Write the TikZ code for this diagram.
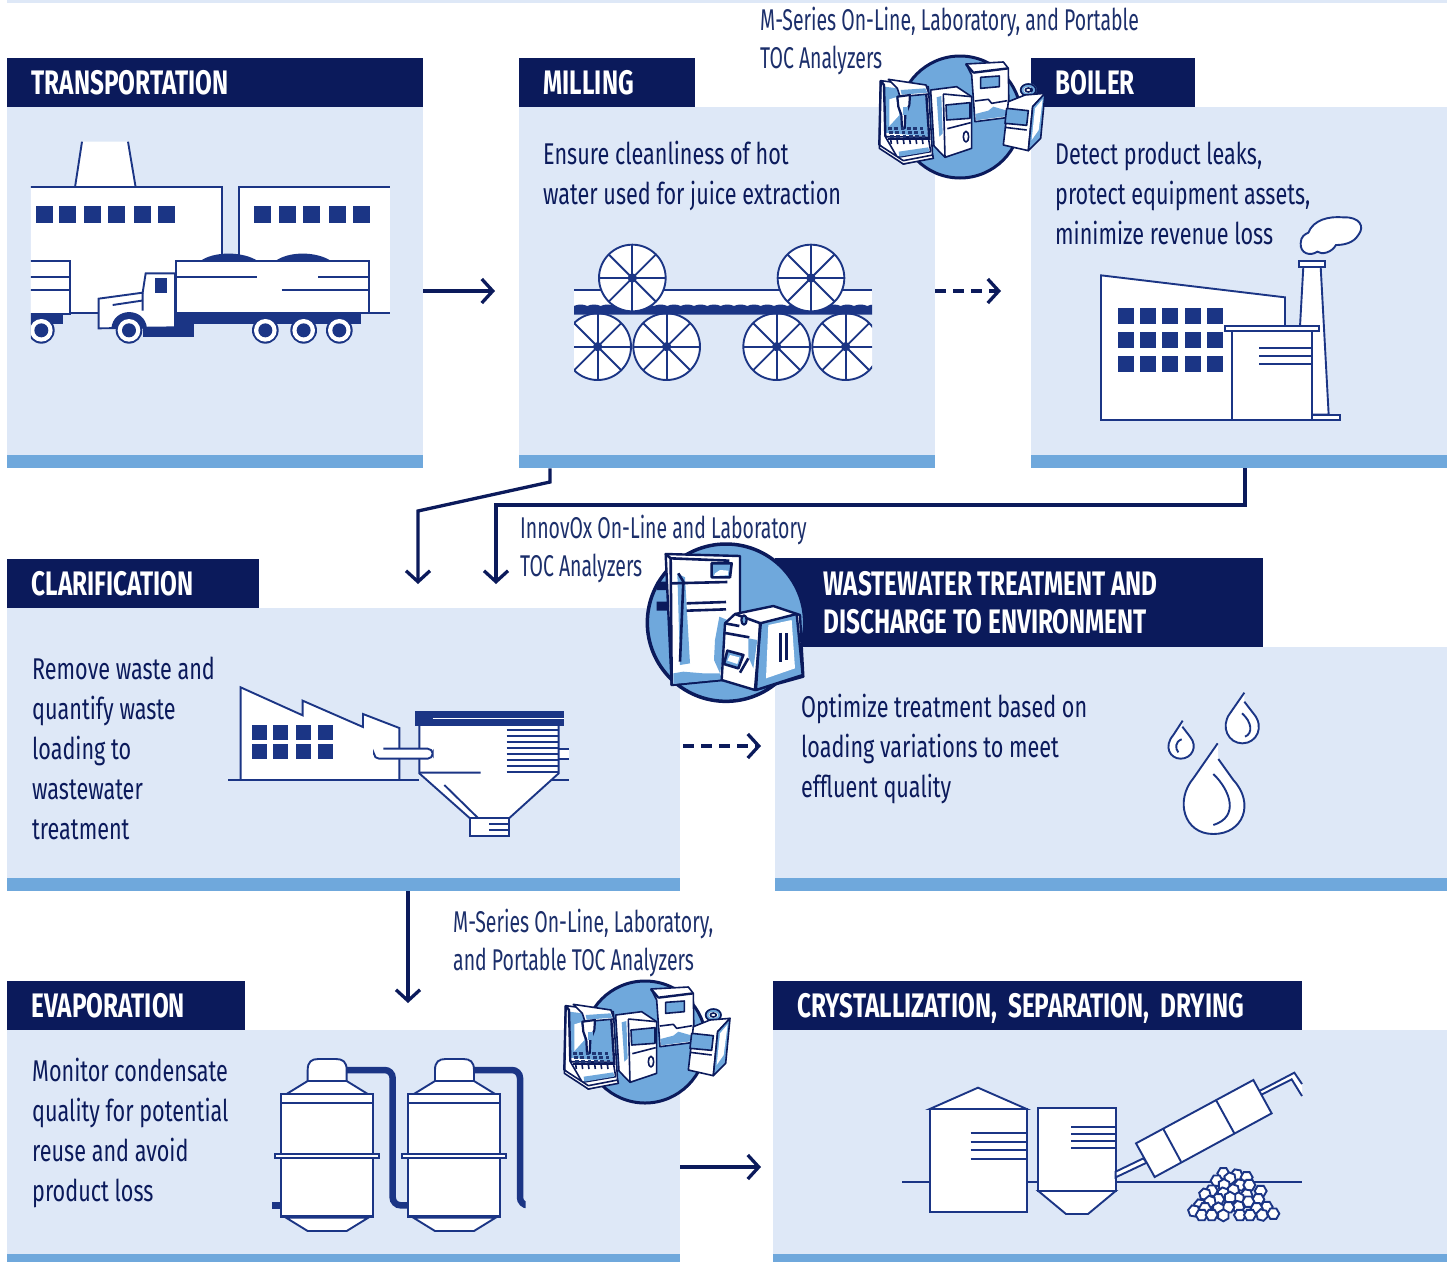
\documentclass[tikz,border=0pt]{standalone}
\usepackage{fontspec}
\setmainfont{Fira Sans}
\newfontfamily\bodyf[FakeStretch=0.72]{Fira Sans}
\newfontfamily\capf[FakeStretch=0.648]{Fira Sans}
\newfontfamily\headf[FakeStretch=0.715]{Fira Sans}
\usetikzlibrary{arrows.meta,calc}
\definecolor{navy}{HTML}{0B1A5B}
\definecolor{ink}{HTML}{1B3585}
\definecolor{pale}{HTML}{DEE8F7}
\definecolor{sky}{HTML}{6FA8DC}
\definecolor{lab}{HTML}{1C2F6B}
\tikzset{
  panel/.style={rectangle,fill=pale,inner sep=0,anchor=north west},
  barbox/.style={rectangle,fill=sky,inner sep=0,anchor=north west},
  hdr/.style={rectangle,fill=navy,text=white,inner ysep=0,inner xsep=24.5pt,anchor=north west,align=left,font=\fontsize{34}{38}\selectfont\headf\bfseries},
  one/.style={text height=24.5pt,text depth=0.5pt},
  body/.style={text=navy,inner sep=0,anchor=north west,yshift=24pt,align=left,font=\fontsize{30}{40.1}\selectfont\bodyf},
  capt/.style={text=lab,inner sep=0,anchor=north west,yshift=24pt,align=left,font=\fontsize{30}{38}\selectfont\capf},
  flow/.style={draw=navy,line width=3.3pt,-{Straight Barb[length=11pt,width=24pt,line width=3.3pt]}},
  dflow/.style={flow,dash pattern=on 11pt off 7pt},
  ln/.style={draw=ink,line width=1.9pt},
  wf/.style={draw=ink,fill=white,line width=1.9pt},
  inst/.style={draw=navy,line width=1.6pt,line join=round},
  iw/.style={inst,fill=white},
  is/.style={inst,fill=sky},
}
\newcommand{\analyzerA}[2]{%
\begin{scope}[shift={(#1,#2)},scale=1/3]
  \filldraw[fill=sky,draw=navy,line width=3pt] (300,231) circle (183);
  % back unit
  \filldraw[iw] (318,72)--(430,66)--(445,85)--(447,232)--(345,245)--(335,105)--cycle;
  \draw[inst,line width=2.4pt] (340,98)--(445,85) (318,72)--(340,98);
  \filldraw[is] (362,112)--(418,108)--(418,140)--(362,145)--cycle;
  \fill[sky] (346,222)--(385,212)--(400,200)--(442,212)--(444,228)--(348,241)--cycle;
  \draw[inst] (345,183)--(385,178)--(395,190)--(442,182);
  % middle unit
  \filldraw[iw] (212,150)--(290,140)--(335,170)--(335,325)--(255,352)--(222,318)--cycle;
  \draw[inst] (250,162)--(335,170) (250,162)--(255,352);
  \filldraw[is] (258,195)--(330,188)--(330,235)--(260,240)--cycle;
  \draw[inst] (262,266)--(332,248);
  \filldraw[iw] (318,290) ellipse (8 and 16);
  \fill[sky] (230,172)--(244,168)--(248,280)--(238,290)--cycle;
  % right portable unit
  \draw[draw=sky,line width=3.5pt] (505,150) ellipse (20 and 15);
  \draw[inst] (505,150) ellipse (9 and 6);
  \draw[inst] (505,150) ellipse (23 and 18);
  \filldraw[iw] (445,185)--(495,165)--(555,160)--(518,200)--(505,332)--(430,315)--cycle;
  \filldraw[is] (518,200)--(555,160)--(542,295)--(505,332)--cycle;
  \fill[white] (525,205)--(548,178)--(536,270)--(515,300)--cycle;
  \filldraw[is] (440,205)--(505,212)--(500,256)--(435,250)--cycle;
  \draw[inst] (435,262)--(500,270);
  % autosampler
  \filldraw[iw] (62,122)--(205,140)--(218,350)--(130,372)--(58,315)--cycle;
  \fill[sky] (72,140)--(196,155)--(204,290)--(76,278)--cycle;
  \fill[white] (88,178)--(108,172)--(118,225)--(88,258)--cycle;
  \draw[inst,line width=2.4pt] (62,122)--(72,135)--(76,290) (62,122)--(58,315) (198,150)--(208,300);
  \filldraw[iw] (85,118)--(198,135)--(207,162)--(120,170)--(112,145)--cycle;
  \fill[sky] (122,150)--(196,145)--(202,158)--(125,164)--cycle;
  \filldraw[inst,fill=white,line width=2.2pt] (112,170)--(150,165)--(148,195)--(136,225)--(134,265)--(126,265)--(124,225)--(115,200)--cycle;
  \fill[sky] (128,200) rectangle (145,225);
  \filldraw[iw] (76,290)--(205,292)--(212,335)--(112,352)--cycle;
  \foreach \a in {0,...,5}\foreach \b in {0,1,2}{\fill[navy!80!sky] ({84+\a*19+\b*3},{262+\b*12}) rectangle ++(11,8);}
  \draw[inst,line width=2.2pt] (85,298)--(205,298);
  \foreach \a in {0,...,5}{\draw[inst] ({92+\a*19},298)--++(2,14);}
  \fill[sky] (116,335)--(205,322)--(208,335)--(118,350)--cycle;
  \filldraw[iw] (58,315)--(130,362)--(218,345)--(220,355)--(130,372)--(58,325)--cycle;
\end{scope}}
\newcommand{\analyzerB}[2]{%
\begin{scope}[shift={(#1,#2)},scale=1/3]
  \filldraw[fill=sky,draw=navy,line width=3.5pt] (258,248) circle (236);
  \fill[navy] (50,125) rectangle (90,150) (50,185) rectangle (85,212);
  % tall unit
  \filldraw[iw,line width=2.4pt] (77,42)--(300,48)--(300,230)--(250,420)--(95,435)--cycle;
  \fill[sky] (112,100)--(135,112)--(150,370)--(120,375)--cycle;
  \fill[sky] (100,400)--(130,395)--(190,400)--(240,400)--(245,418)--(100,432)--cycle;
  \fill[sky] (225,300)--(238,230)--(262,240)--(255,320)--(240,400)--(222,360)--cycle;
  \draw[inst,line width=2.6pt] (77,42)--(92,55)--(268,62) (92,55)--(95,435) (115,100)--(130,125)--(120,365);
  \draw[inst,line width=2.6pt] (95,130)--(262,126) (140,190)--(258,186) (140,212)--(258,208);
  \filldraw[is,line width=2.6pt] (215,70)--(275,70)--(270,112)--(215,112)--cycle;
  \fill[white] (225,100)--(240,90)--(265,92)--(264,106)--(222,108)--cycle;
  % small unit
  \filldraw[iw,line width=2.4pt] (285,222)--(400,198)--(480,225)--(490,410)--(345,450)--(245,420)--(255,250)--cycle;
  \filldraw[is,line width=2.4pt] (360,250)--(470,222)--(488,405)--(348,450)--cycle;
  \fill[white] (385,255)--(455,240)--(465,385)--(378,415)--cycle;
  \draw[inst,line width=2.6pt] (285,222)--(362,250)--(345,450) (255,250)--(298,258) (250,278)--(328,292);
  \draw[inst,line width=3pt] (420,278)--(420,365) (438,280)--(438,360);
  \filldraw[is,line width=2.2pt] (312,240) ellipse (8 and 14);
  \fill[sky] (325,295)--(352,300)--(340,385)--(325,350)--cycle;
  \filldraw[is,line width=2.6pt] (262,332)--(310,345)--(295,385)--(252,372)--cycle;
  \fill[white] (270,345)--(298,352)--(292,372)--(262,362)--cycle;
  \draw[inst,line width=2.6pt] (300,398)--(325,355);
\end{scope}}
\begin{document}
\begin{tikzpicture}[x=1pt,y=-1pt,line cap=butt]
\useasboundingbox (0,0) rectangle (1452,1262);
\fill[white] (0,0) rectangle (1452,1262);
\fill[pale] (7,0) rectangle (1447,3);

% ---------- panels
\node[panel,minimum width=416pt,minimum height=348pt] (transportBody) at (7,107) {};
\node[barbox,minimum width=416pt,minimum height=13pt] (transportBar) at (7,455) {};
\node[hdr,one,minimum width=416pt,minimum height=49pt,text width=367pt] (transportHead) at (7,58) {TRANSPORTATION};

\node[panel,minimum width=416pt,minimum height=348pt] (millBody) at (519,107) {};
\node[barbox,minimum width=416pt,minimum height=13pt] (millBar) at (519,455) {};
\node[hdr,one,minimum width=176pt,minimum height=49pt,text width=127pt] (millHead) at (519,58) {MILLING};

\node[panel,minimum width=416pt,minimum height=348pt] (boilBody) at (1031,107) {};
\node[barbox,minimum width=416pt,minimum height=13pt] (boilBar) at (1031,455) {};
\node[hdr,one,minimum width=164pt,minimum height=49pt,text width=115pt] (boilHead) at (1031,58) {BOILER};

\node[panel,minimum width=673pt,minimum height=270pt] (clarBody) at (7,608) {};
\node[barbox,minimum width=673pt,minimum height=13pt] (clarBar) at (7,878) {};
\node[hdr,one,minimum width=252pt,minimum height=49pt,text width=203pt] (clarHead) at (7,559) {CLARIFICATION};

\node[panel,minimum width=672pt,minimum height=231pt] (wasteBody) at (775,647) {};
\node[barbox,minimum width=672pt,minimum height=13pt] (wasteBar) at (775,878) {};
\fill[navy] (775,558) rectangle (1263,647);

\node[panel,minimum width=673pt,minimum height=224pt] (evapBody) at (7,1030) {};
\node[barbox,minimum width=673pt,minimum height=8pt] (evapBar) at (7,1254) {};
\node[hdr,one,minimum width=238pt,minimum height=49pt,text width=189pt] (evapHead) at (7,981) {EVAPORATION};

\node[panel,minimum width=674pt,minimum height=224pt] (crysBody) at (773,1030) {};
\node[barbox,minimum width=674pt,minimum height=8pt] (crysBar) at (773,1254) {};
\node[hdr,one,minimum width=529pt,minimum height=49pt,text width=480pt] (crysHead) at (773,981) {CRYSTALLIZATION, SEPARATION, DRYING};

% ---------- truck scene
\begin{scope}[shift={(0,120)},scale=1/3]
\begin{scope}
\clip (93,50) rectangle (1170,680);
\fill[white] (225,202)--(246,65)--(384,65)--(407,202)--cycle;
\draw[ln] (225,202)--(246,65) (384,65)--(407,202);
\fill[white] (80,202) rectangle (667,580) (717,202) rectangle (1180,580);
\draw[ln] (80,202)--(667,202)--(667,580) (717,580)--(717,202)--(1180,202) (100,580)--(300,580) (1100,580)--(1180,580);
\foreach \x in {108,177,252,324,402,474}{\fill[ink] (\x,258) rectangle ++(51,51);}
\foreach \x in {762,837,909,987,1059}{\fill[ink] (\x,258) rectangle ++(51,51);}
\fill[ink] (600,424) .. controls (640,393) and (730,393) .. (775,424)--cycle;
\fill[ink] (825,424) .. controls (865,393) and (950,393) .. (995,424)--cycle;
% rear trailer
\filldraw[wf] (80,423)--(211,423)--(211,583)--(80,583)--cycle;
\draw[ln] (80,472)--(211,472) (80,510)--(211,510);
\fill[ink] (80,585) rectangle (188,613);
% main trailer
\fill[ink] (527,580) rectangle (1082,613);
\fill[ink] (430,600) rectangle (582,650);
\filldraw[wf] (527,423) rectangle (1107,580);
\draw[ln] (527,472)--(770,472) (955,472)--(1107,472) (845,510)--(1107,510);
% cab
\filldraw[wf] (525,460)--(437,460)--(428,518)--(296,536)--(296,625)--(525,622)--cycle;
\fill[ink] (465,474) rectangle (501,518);
\draw[ln] (338,555)--(425,542) (428,518)--(428,572);
\fill[ink] (334,625) .. controls (340,560) and (435,560) .. (441,625)--cycle;
\foreach \x in {124,387,796,911,1018}{
  \fill[ink] (\x,631) circle (40);
  \fill[white] (\x,631) circle (34);
  \fill[ink] (\x,631) circle (21);
}
\end{scope}
\end{scope}

% ---------- mill
\begin{scope}[shift={(560,230)},scale=1/3]
\begin{scope}
\clip (42,0) rectangle (936,480);
\fill[white] (42,180) rectangle (936,235);
\draw[ink,line width=2pt] (42,180)--(936,180);
\foreach \cx/\cy in {113/350,320/350,650/350,857/350}{
  \filldraw[wf] (\cx,\cy) circle (100);
  \foreach \a in {0,45,...,315}{\draw[ln] (\cx,\cy)--+(\a:100);}
  \fill[ink] (\cx,\cy) circle (14);
}
\fill[ink] (42,228) \foreach \x in {42,82,...,922}{ .. controls (\x+12,222) and (\x+28,222) .. (\x+40,228)} -- (936,228) -- (936,254) -- (42,254) -- cycle;
\foreach \cx/\cy in {217/144,753/144}{
  \filldraw[wf] (\cx,\cy) circle (100);
  \foreach \a in {0,45,...,315}{\draw[ln] (\cx,\cy)--+(\a:100);}
  \fill[ink] (\cx,\cy) circle (14);
}
\end{scope}
\end{scope}

% ---------- boiler factory
\begin{scope}[shift={(1090,210)},scale=1/3]
\filldraw[wf] (33,196)--(585,262)--(585,350)--(427,350)--(427,630)--(33,630)--cycle;
\foreach \x in {84,150,216,285,351}\foreach \y in {294,366,438}{\fill[ink] (\x,\y) rectangle ++(48,48);}
\filldraw[wf] (630,350)--(640,170)--(692,170)--(716,614)--(666,614)--(666,350)--cycle;
\filldraw[wf] (627,153) rectangle (705,171);
\filldraw[wf] (666,614) rectangle (750,630);
\filldraw[wf] (427,363) rectangle (666,630);
\filldraw[wf] (405,349) rectangle (686,363);
\draw[ln] (508,413)--(666,413) (508,438)--(666,438) (508,463)--(666,463);
\filldraw[wf] (655,68) .. controls (670,30) and (715,18) .. (760,22) .. controls (810,20) and (825,50) .. (805,75) .. controls (790,100) and (760,105) .. (738,105) .. controls (725,128) and (695,135) .. (682,125) .. controls (660,140) and (630,130) .. (632,100) .. controls (632,80) and (645,72) .. (655,68) -- cycle;
\end{scope}

% ---------- clarifier
\begin{scope}[shift={(220,680)},scale=1/3]
\filldraw[wf] (62,300)--(62,22)--(248,106)--(248,62)--(429,141)--(429,102)--(538,144)--(538,300)--cycle;
\foreach \x in {96,159,228,294}\foreach \y in {135,192}{\fill[ink] (\x,\y) rectangle ++(45,45);}
\draw[ln] (24,300)--(598,300) (990,300)--(1046,300);
\fill[white] (1016,206) rectangle (1046,238);
\draw[ln] (1016,206)--(1046,206) (1016,238)--(1046,238);
\filldraw[wf] (598,135)--(1016,135)--(1016,280)--(867,415)--(750,415)--(598,280)--cycle;
\fill[ink] (585,93) rectangle (1032,137);
\draw[white,line width=1.6pt] (638,115)--(1032,115);
\foreach \y in {151,167,185,203,222,240,258,276}{\draw[ln] (860,\y)--(1016,\y);}
\draw[ln] (600,278)--(782,278) (673,315)--(775,415);
\filldraw[wf] (750,415) rectangle (867,467);
\draw[ln] (807,433)--(867,433) (807,450)--(867,450);
\fill[white] (462,206) rectangle (625,236);
\draw[ln,rounded corners=5pt] (490,206)--(638,206)--(638,236)--(462,236)--(462,224);
\end{scope}

% ---------- drops
\begin{scope}[shift={(1150,680)},scale=1/3]
\fill[white] (203,190)--(130,295) .. controls (75,360) and (100,462) .. (190,462) .. controls (280,462) and (315,370) .. (250,300)--(205,237)--cycle;
\draw[ln] (203,190)--(130,295) .. controls (75,360) and (100,462) .. (190,462) .. controls (280,462) and (315,370) .. (250,300)--(205,237);
\draw[ln] (190,282) .. controls (240,330) and (270,410) .. (190,435);
\fill[white] (283,38)--(240,100) .. controls (210,140) and (235,190) .. (277,190) .. controls (320,190) and (345,140) .. (310,100)--(283,65)--cycle;
\draw[ln] (283,38)--(240,100) .. controls (210,140) and (235,190) .. (277,190) .. controls (320,190) and (345,140) .. (310,100)--(283,65);
\draw[ln] (276,100) .. controls (305,125) and (310,160) .. (285,170);
\fill[white] (98,122)--(70,165) .. controls (40,200) and (60,236) .. (92,236) .. controls (125,236) and (145,200) .. (120,170)--(97,140)--cycle;
\draw[ln] (98,122)--(70,165) .. controls (40,200) and (60,236) .. (92,236) .. controls (125,236) and (145,200) .. (120,170)--(97,140);
\draw[ln] (95,178) .. controls (75,185) and (75,205) .. (85,217);
\end{scope}

% ---------- evaporators
\begin{scope}[shift={(260,1050)},scale=1/3]
\begin{scope}
\clip (30,0) rectangle (797,570);
\draw[ink,line width=6.5pt,rounded corners=8pt] (260,60)--(398,60)--(398,466)--(445,466);
\draw[ink,line width=6.5pt,rounded corners=8pt] (642,60)--(780,60)--(780,466)--(810,466);
\draw[ink,line width=6.5pt] (37,466)--(63,466);
\end{scope}
\foreach \d in {0,382}{
\begin{scope}[xshift=\d*1pt]
\filldraw[wf] (143,93)--(143,60) .. controls (143,35) and (155,27) .. (175,27)--(228,27) .. controls (248,27) and (260,35) .. (260,60)--(260,93)--cycle;
\filldraw[wf] (78,133)--(143,93)--(260,93)--(325,133)--cycle;
\filldraw[wf] (63,133) rectangle (338,500);
\draw[ln] (63,160)--(338,160);
\draw[ink,line width=2.4pt] (63,500)--(338,500);
\filldraw[wf] (78,503)--(143,543)--(260,543)--(325,503)--cycle;
\filldraw[wf] (45,313) rectangle (357,325);
\end{scope}}
\end{scope}

% ---------- crystallization
\begin{scope}[shift={(890,1060)},scale=1/3]
\draw[ln] (37,365)--(1236,365);
\filldraw[wf] (119,147)--(264,83)--(410,147)--cycle;
\filldraw[wf] (119,147) rectangle (410,456);
\foreach \y in {218,245,269,296}{\draw[ln] (242,\y)--(410,\y);}
\filldraw[wf] (445,393)--(528,462)--(594,462)--(677,393)--cycle;
\filldraw[wf] (445,145) rectangle (677,393);
\foreach \y in {202,222,243,264}{\draw[ln] (543,\y)--(677,\y);}
\filldraw[wf] (677,335)--(760,295)--(770,308)--(677,352)--cycle;
\fill[white] (1110,92)--(1213,38)--(1236,68)--(1236,108)--(1205,58)--(1116,103)--cycle;
\draw[ln] (1110,92)--(1213,38)--(1236,72) (1116,103)--(1205,58)--(1236,108);
\filldraw[wf] (738,250)--(1090,60)--(1145,160)--(794,351)--cycle;
\draw[ln] (820,207)--(873,305) (978,120)--(1033,220);
\foreach \cx/\cy/\r in {1040/345/10,1070/352/0,1000/340/0,1020/355/20,980/362/0,1050/375/10,1002/375/30,1030/390/20,1078/375/0,1112/393/0,965/392/0,945/403/15,1000/400/20,1070/405/10,1105/418/0,1045/415/30,985/418/0,930/435/10,960/425/20,1020/413/30,1075/425/0,1130/441/0,1100/445/0,1045/440/15,1015/442/0,985/445/30,945/445/0,912/453/10,935/465/0,965/465/0,1000/466/30,1050/465/0,1080/465/0,1116/465/15,1150/461/0}{
 \filldraw[wf] (\cx,\cy) ++(\r:18) -- ++(\r+120:18) -- ++(\r+180:18) -- ++(\r+240:18) -- ++(\r+300:18) -- ++(\r+360:18) -- cycle;
}
\end{scope}

% ---------- analyzers
\analyzerA{860}{40}
\analyzerA{545}{965}
\analyzerB{640}{540}

% ---------- texts
\node[text=white,inner sep=0,anchor=north west,yshift=25pt,align=left,font=\fontsize{34}{38}\selectfont\headf\bfseries] (wasteHead) at (823,595) {\rule{0pt}{25pt}WASTEWATER TREATMENT AND\\DISCHARGE TO ENVIRONMENT};
\node[capt] (capA) at (760,30) {\rule{0pt}{24pt}M-Series On-Line, Laboratory, and Portable\\TOC Analyzers};
\node[capt] (capB) at (520,538) {\rule{0pt}{24pt}InnovOx On-Line and Laboratory\\TOC Analyzers};
\node[capt] (capC) at (453,932) {\rule{0pt}{24pt}M-Series On-Line, Laboratory,\\and Portable TOC Analyzers};
\node[body] (txtMill) at (543,164) {\rule{0pt}{24pt}Ensure cleanliness of hot\\water used for juice extraction};
\node[body] (txtBoil) at (1055,164) {\rule{0pt}{24pt}Detect product leaks,\\protect equipment assets,\\minimize revenue loss};
\node[body] (txtClar) at (32,679) {\rule{0pt}{24pt}Remove waste and\\quantify waste\\loading to\\wastewater\\treatment};
\node[body] (txtWaste) at (801,717) {\rule{0pt}{24pt}Optimize treatment based on\\loading variations to meet\\effluent quality};
\node[body] (txtEvap) at (32,1081) {\rule{0pt}{24pt}Monitor condensate\\quality for potential\\reuse and avoid\\product loss};

% ---------- connectors
\coordinate (endA) at (495,291);
\coordinate (endB) at (1001,291);
\coordinate (endC) at (418,584);
\coordinate (endD) at (496,584);
\coordinate (startE) at (683,746);
\coordinate (endE) at (761,746);
\coordinate (endF) at (408,1003);
\coordinate (endG) at (761,1167);
\coordinate (bendC1) at (550,482);
\coordinate (bendC2) at (418,511);
\coordinate (bendD1) at (1245,505);
\coordinate (bendD2) at (496,505);
\draw[flow] (transportBody.east |- endA) -- (endA);
\draw[dflow] (millBody.east |- endB) -- (endB);
\draw[flow,line join=miter] (millBar.south -| bendC1) -- (bendC1) -- (bendC2) -- (endC);
\draw[flow,line join=miter] (boilBar.south -| bendD1) -- (bendD1) -- (bendD2) -- (endD);
\draw[dflow] (startE) -- (endE);
\draw[flow] (clarBar.south -| endF) -- (endF);
\draw[flow] (evapBody.east |- endG) -- (endG);
\end{tikzpicture}
\end{document}
